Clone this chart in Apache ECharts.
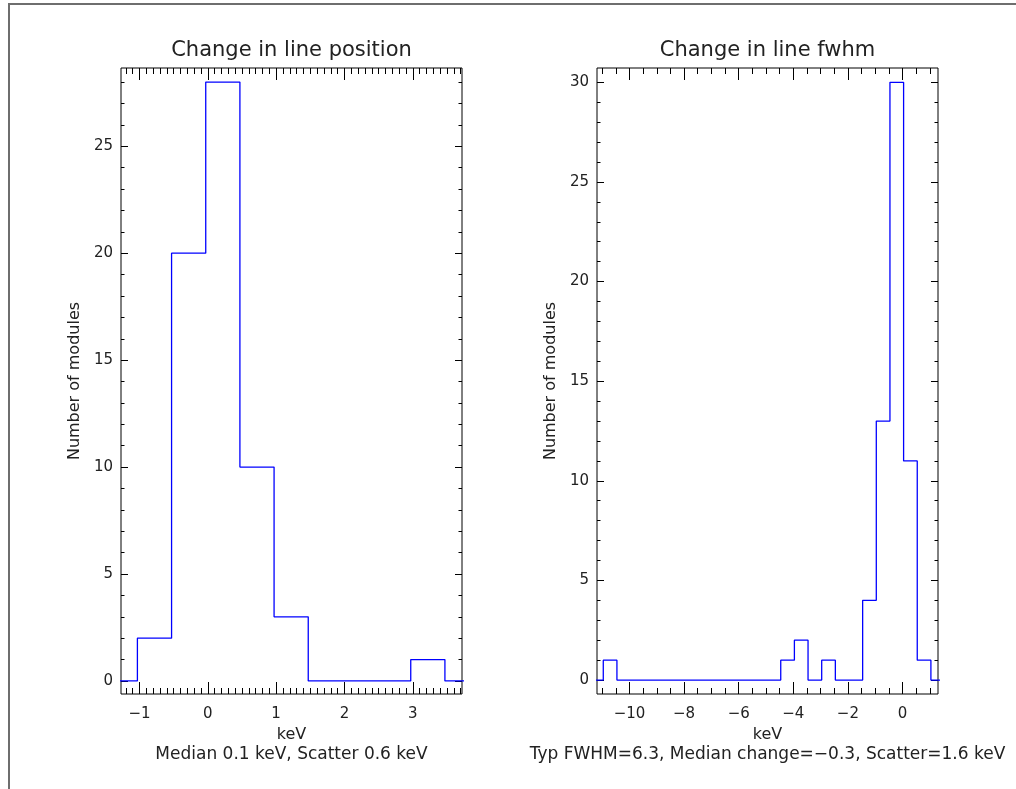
<!DOCTYPE html>
<html>
<head>
<meta charset="utf-8">
<script src="https://cdn.jsdelivr.net/npm/echarts@6/dist/echarts.min.js"></script>
<style>
  html, body { margin: 0; padding: 0; background: #fff; }
  #main { width: 1016px; height: 789px; }
</style>
</head>
<body>
<div id="main"></div>
<script>
// histogram 1: change in line position (keV)
var posEdgeStart = -1.53;
var posBinWidth = 0.5;
var posCounts = [0, 2, 20, 28, 10, 3, 0, 0, 0, 1, 0];
var posXTicks = [-1, 0, 1, 2, 3];
var posYTicks = [0, 5, 10, 15, 20, 25];

// histogram 2: change in line fwhm (keV)
var fwhmEdgeStart = -11.46;
var fwhmBinWidth = 0.5;
var fwhmCounts = [0, 1, 0, 0, 0, 0, 0, 0, 0, 0, 0, 0, 0, 0, 1, 2, 0, 1, 0, 0, 4, 13, 30, 11, 1, 0];
var fwhmXTicks = [-10, -8, -6, -4, -2, 0];
var fwhmYTicks = [0, 5, 10, 15, 20, 25, 30];

var titles = ['Change in line position', 'Change in line fwhm'];
var notes = ['Median 0.1 keV, Scatter 0.6 keV', 'Typ FWHM=6.3, Median change=\u22120.3, Scatter=1.6 keV'];

var FONT = '"DejaVu Sans", sans-serif';

// step outline of a histogram
function stepLine(start, width, counts) {
  var pts = [];
  for (var i = 0; i < counts.length; i++) {
    var a = Math.round((start + i * width) * 100) / 100;
    var b = Math.round((start + (i + 1) * width) * 100) / 100;
    pts.push([a, counts[i]], [b, counts[i]]);
  }
  return pts;
}

function range(from, to, step) {
  var out = [];
  for (var v = from; v <= to + 1e-9; v += step) out.push(Math.round(v * 100) / 100);
  return out;
}

function fmt(v) { return String(v).replace('-', '\u2212'); }

function axisSet(kind, g, min, max, major, minor, majLen, minLen, name, nameGap) {
  var sides = kind === 'x' ? ['bottom', 'top'] : ['left', 'right'];
  var list = [];
  sides.forEach(function (side, s) {
    [major, minor].forEach(function (vals, m) {
      var ax = {
        type: 'value', gridIndex: g, min: min, max: max, position: side, offset: 0,
        axisLine: { show: false, onZero: false },
        splitLine: { show: false },
        axisTick: { show: true, inside: true, length: m === 0 ? majLen : minLen,
                    customValues: vals, lineStyle: { color: '#000', width: 1 } },
        axisLabel: { show: false }
      };
      if (s === 0 && m === 0) {
        ax.axisLabel = { show: true, customValues: vals, formatter: fmt,
                         margin: kind === 'x' ? 13 : 8,
                         color: '#222', fontFamily: FONT, fontSize: 15 };
        ax.name = name;
        ax.nameLocation = 'middle';
        ax.nameGap = nameGap;
        ax.nameTextStyle = { color: '#222', fontFamily: FONT, fontSize: 16 };
      }
      list.push(ax);
    });
  });
  return list;
}

var grids = [
  { left: 121, top: 68, width: 341, height: 626 },
  { left: 597, top: 68, width: 341, height: 626 }
];
grids.forEach(function (g) {
  g.show = true; g.borderColor = '#000'; g.borderWidth = 1; g.backgroundColor = 'transparent';
});

var xAxes = axisSet('x', 0, -1.27, 3.72, posXTicks, range(-1.2, 3.7, 0.1), 12, 6, 'keV', 32)
  .concat(axisSet('x', 1, -11.19, 1.30, fwhmXTicks, range(-11, 1, 0.5), 12, 6, 'keV', 32));
var yAxes = axisSet('y', 0, -0.61, 28.66, posYTicks, range(0, 28, 1), 7, 3.5, 'Number of modules', 38)
  .concat(axisSet('y', 1, -0.70, 30.72, fwhmYTicks, range(0, 30, 1), 7, 3.5, 'Number of modules', 38));

var myChart = echarts.init(document.getElementById('main'));
myChart.setOption({
  animation: false,
  backgroundColor: '#fff',
  grid: grids,
  xAxis: xAxes,
  yAxis: yAxes,
  series: [
    {
      type: 'line', xAxisIndex: 0, yAxisIndex: 0,
      data: stepLine(posEdgeStart, posBinWidth, posCounts),
      showSymbol: false, clip: true,
      lineStyle: { color: '#0000ff', width: 1.3 }
    },
    {
      type: 'line', xAxisIndex: 4, yAxisIndex: 4,
      data: stepLine(fwhmEdgeStart, fwhmBinWidth, fwhmCounts),
      showSymbol: false, clip: true,
      lineStyle: { color: '#0000ff', width: 1.3 }
    }
  ],
  graphic: [
    { type: 'rect', shape: { x: 9, y: 4, width: 1200, height: 1000 },
      style: { fill: 'none', stroke: '#6e6e6e', lineWidth: 2 } },
    { type: 'text', x: 291.5, y: 51,
      style: { text: titles[0], align: 'center', verticalAlign: 'middle', fontSize: 21, fontFamily: FONT, fill: '#222' } },
    { type: 'text', x: 767.5, y: 51,
      style: { text: titles[1], align: 'center', verticalAlign: 'middle', fontSize: 21, fontFamily: FONT, fill: '#222' } },
    { type: 'text', x: 291.5, y: 755,
      style: { text: notes[0], align: 'center', verticalAlign: 'middle', fontSize: 17, fontFamily: FONT, fill: '#222' } },
    { type: 'text', x: 767.5, y: 755,
      style: { text: notes[1], align: 'center', verticalAlign: 'middle', fontSize: 17, fontFamily: FONT, fill: '#222' } }
  ]
});
</script>
</body>
</html>
